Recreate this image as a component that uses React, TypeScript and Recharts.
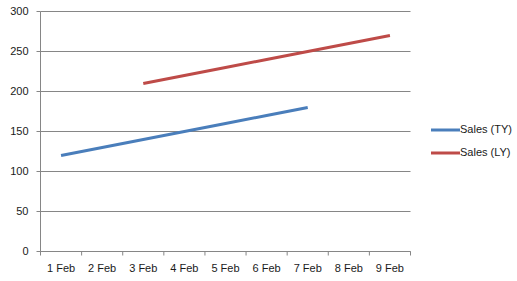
import React from 'react';
import { LineChart, Line, XAxis, YAxis, CartesianGrid } from 'recharts';

const categories = ['1 Feb', '2 Feb', '3 Feb', '4 Feb', '5 Feb', '6 Feb', '7 Feb', '8 Feb', '9 Feb'];
const salesTY: (number | null)[] = [120, 130, 140, 150, 160, 170, 180, null, null];
const salesLY: (number | null)[] = [null, null, 210, 220, 230, 240, 250, 260, 270];
const yTicks = [0, 50, 100, 150, 200, 250, 300];

const data = categories.map((c, i) => ({ day: c, ty: salesTY[i], ly: salesLY[i] }));

const W = 517;
const H = 281;
const Y_AXIS_W = 40.5;
const PLOT_W = 370;
const TOP = 11.5;
const X_AXIS_H = 29.5;
const RIGHT = W - Y_AXIS_W - PLOT_W;
const BAND = PLOT_W / categories.length;
const TICK_SIZE = 4;
const TICK_MARGIN = 0;
const AXIS_COLOR = '#868686';
const TEXT_COLOR = '#1a1a1a';
const FONT = '"Liberation Sans", Arial, sans-serif';

const series = [
  { key: 'ty', name: 'Sales (TY)', color: '#4A7EBB' },
  { key: 'ly', name: 'Sales (LY)', color: '#BE4B48' },
];

const XTick = (props: any) => {
  const { x, y, payload, index } = props;
  const axisY = y - TICK_SIZE - TICK_MARGIN;
  const last = index === categories.length - 1;
  return (
    <g>
      <line x1={x - BAND / 2} x2={x - BAND / 2} y1={axisY} y2={axisY + TICK_SIZE} stroke={AXIS_COLOR} />
      {last && (
        <line x1={x + BAND / 2} x2={x + BAND / 2} y1={axisY} y2={axisY + TICK_SIZE} stroke={AXIS_COLOR} />
      )}
      <text x={x} y={y} dy={16.5} textAnchor="middle" fill={TEXT_COLOR} fontSize={11} fontFamily={FONT}>
        {payload.value}
      </text>
    </g>
  );
};

const LegendBox = () => (
  <div
    style={{
      position: 'absolute',
      left: 431,
      top: 118,
      fontFamily: FONT,
      fontSize: 11,
      color: TEXT_COLOR,
    }}
  >
    {series.map((s) => (
      <div key={s.key} style={{ display: 'flex', alignItems: 'center', height: 23 }}>
        <svg width={29} height={6} style={{ display: 'block' }}>
          <line x1={0} x2={29} y1={3} y2={3} stroke={s.color} strokeWidth={3} />
        </svg>
        <span style={{ lineHeight: '13px' }}>{s.name}</span>
      </div>
    ))}
  </div>
);

export default function App() {
  return (
    <div style={{ position: 'absolute', left: 0, top: 0, width: W, height: H, background: '#fff' }}>
      <LineChart
        width={W}
        height={H}
        data={data}
        margin={{ top: TOP, right: RIGHT, bottom: 0, left: 0 }}
      >
        <CartesianGrid horizontal vertical={false} stroke={AXIS_COLOR} />
        <XAxis
          dataKey="day"
          scale="band"
          height={X_AXIS_H}
          axisLine={{ stroke: AXIS_COLOR }}
          tickLine={false}
          tickSize={TICK_SIZE}
          tickMargin={TICK_MARGIN}
          tick={<XTick />}
          interval={0}
        />
        <YAxis
          width={Y_AXIS_W}
          domain={[0, 300]}
          ticks={yTicks}
          axisLine={{ stroke: AXIS_COLOR }}
          tickLine={{ stroke: AXIS_COLOR }}
          tickSize={4}
          tickMargin={8}
          tick={{ fill: TEXT_COLOR, fontSize: 11, fontFamily: FONT }}
        />
        {series.map((s) => (
          <Line
            key={s.key}
            type="linear"
            dataKey={s.key}
            name={s.name}
            stroke={s.color}
            strokeWidth={3}
            dot={false}
            activeDot={false}
            connectNulls={false}
            isAnimationActive={false}
          />
        ))}
      </LineChart>
      <LegendBox />
    </div>
  );
}
